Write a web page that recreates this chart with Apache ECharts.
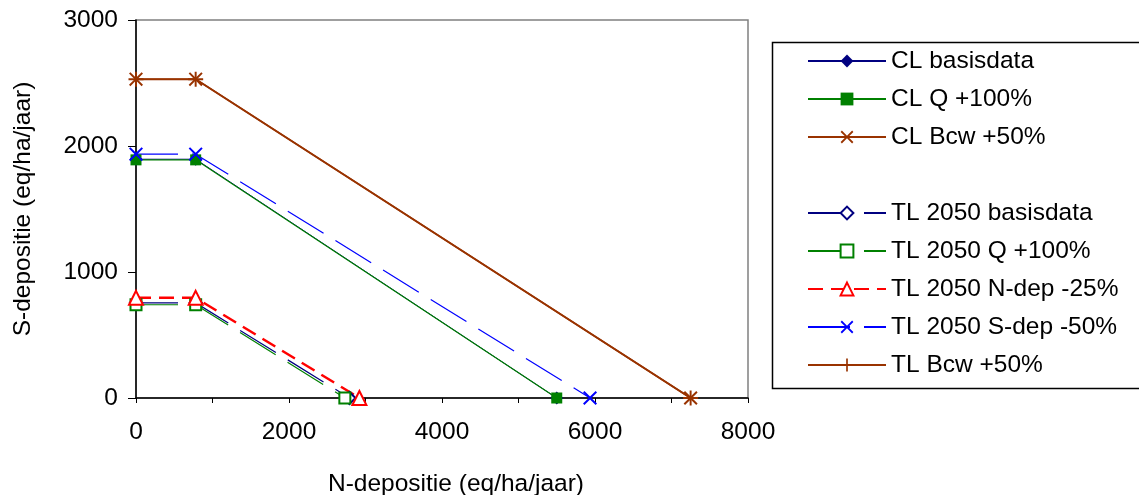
<!DOCTYPE html>
<html><head><meta charset="utf-8">
<script src="https://cdn.jsdelivr.net/npm/echarts@6/dist/echarts.min.js"></script>
<style>html,body{margin:0;padding:0;background:#fff}#c{width:1139px;height:495px}</style>
</head><body><div id="c"></div>
<script>
// ---- data ----
const seriesNames = ['CL basisdata','CL Q +100%','CL Bcw +50%','TL 2050 basisdata','TL 2050 Q +100%','TL 2050 N-dep -25%','TL 2050 S-dep -50%','TL Bcw +50%'];
const clBasisX = [0, 780, 5500];   const clBasisY = [1895, 1895, 0];
const clQX     = [0, 780, 5500];   const clQY     = [1890, 1890, 0];
const clBcwX   = [0, 780, 7250];   const clBcwY   = [2530, 2530, 0];
const tlBasisX = [0, 780, 2790];   const tlBasisY = [755, 755, 0];
const tlQX     = [0, 780, 2730];   const tlQY     = [740, 740, 0];
const tlNdepX  = [0, 780, 2920];   const tlNdepY  = [795, 795, 0];
const tlSdepX  = [0, 780, 5935];   const tlSdepY  = [1935, 1935, 0];
const tlBcwX   = [0, 780, 7250];   const tlBcwY   = [2530, 2530, 0];
const xTickLabels = ['0','2000','4000','6000','8000'];
const yTickLabels = ['0','1000','2000','3000'];
const xAxisTitle = 'N-depositie (eq/ha/jaar)';
const yAxisTitle = 'S-depositie (eq/ha/jaar)';

function zip(xs, ys){ return xs.map((x,i)=>[x, ys[i]]); }

const FONT = '"Liberation Sans", Arial, sans-serif';
const FS = 24.5;
const PLUS = 'path://M4.35,0H5.65V4.35H10V5.65H5.65V10H4.35V5.65H0V4.35H4.35Z';
const CROSS = 'path://M1,0L5,4L9,0L10,1L6,5L10,9L9,10L5,6L1,10L0,9L4,5L0,1Z';

function mk(name, xs, ys, color, width, dash, symbol, size, fill, extra){
  return Object.assign({
    name: name, type: 'line', data: zip(xs, ys), clip: false,
    symbol: symbol, symbolSize: size, showSymbol: true,
    lineStyle: {color: color, width: width, type: dash},
    itemStyle: fill ? {color: color, borderColor: color, borderWidth: 0}
                    : {color: '#fff', borderColor: color, borderWidth: 2},
    emphasis: {disabled: true}, animation: false
  }, extra || {});
}

const series = [
  mk(seriesNames[7], tlBcwX, tlBcwY, '#993300', 1.5, 'solid', PLUS, 15, true),
  mk(seriesNames[2], clBcwX, clBcwY, '#993300', 2, 'solid', CROSS, 14, true),
  mk(seriesNames[0], clBasisX, clBasisY, '#000080', 1, 'solid', 'diamond', 13, true),
  mk(seriesNames[1], clQX, clQY, '#008000', 1.2, 'solid', 'rect', 11, true),
  mk(seriesNames[6], tlSdepX, tlSdepY, '#0000FF', 1.2, [42, 14], CROSS, 14, true),
  mk(seriesNames[3], tlBasisX, tlBasisY, '#000080', 1.2, [42, 14], 'diamond', 12, false),
  mk(seriesNames[4], tlQX, tlQY, '#008000', 1.2, [42, 14], 'rect', 11, false),
  mk(seriesNames[5], tlNdepX, tlNdepY, '#FF0000', 2.5, [15, 8], 'triangle', 14, false)
];

const legendCommon = {
  orient: 'vertical', left: 802, itemWidth: 78, itemHeight: 16, itemGap: 10,
  selectedMode: false,
  textStyle: {fontFamily: FONT, fontSize: FS, color: '#000', lineHeight: 28, padding: [0,0,0,0]}
};

const chart = echarts.init(document.getElementById('c'), null, {renderer: 'canvas'});
chart.setOption({
  backgroundColor: '#fff',
  animation: false,
  grid: {left: 136, right: 391, top: 20, bottom: 97, show: true, borderColor: '#808080', borderWidth: 1.5,
         containLabel: false, outerBoundsMode: 'none'},
  xAxis: {
    type: 'value', min: 0, max: 8000, interval: 1000,
    name: xAxisTitle, nameLocation: 'middle', nameGap: 74,
    nameTextStyle: {fontFamily: FONT, fontSize: FS, color: '#000', padding: [0, 0, 0, 28]},
    axisLine: {show: true, onZero: false, lineStyle: {color: '#000', width: 1.5}},
    axisTick: {show: true, inside: false, length: 5, lineStyle: {color: '#000', width: 1}},
    axisLabel: {margin: 22, fontFamily: FONT, fontSize: FS, color: '#000',
      formatter: v => { const s = String(v); return xTickLabels.indexOf(s) >= 0 ? s : ''; }},
    splitLine: {show: false}
  },
  yAxis: {
    type: 'value', min: 0, max: 3000, interval: 1000,
    name: yAxisTitle, nameLocation: 'middle', nameGap: 100, nameRotate: 90,
    nameTextStyle: {fontFamily: FONT, fontSize: FS, color: '#000'},
    axisLine: {show: true, onZero: false, lineStyle: {color: '#000', width: 1.5}},
    axisTick: {show: true, inside: false, length: 8, lineStyle: {color: '#000', width: 1}},
    axisLabel: {margin: 18, fontFamily: FONT, fontSize: FS, color: '#000',
      formatter: v => { const s = String(v); return yTickLabels.indexOf(s) >= 0 ? s : ''; }},
    splitLine: {show: false}
  },
  legend: [
    Object.assign({}, legendCommon, {top: 42, data: [seriesNames[0], seriesNames[1], seriesNames[2]]}),
    Object.assign({}, legendCommon, {top: 194, data: [seriesNames[3], seriesNames[4], seriesNames[5], seriesNames[6], seriesNames[7]]})
  ],
  graphic: [{
    type: 'rect', left: 770, top: 40, silent: true,
    shape: {x: 0, y: 0, width: 420, height: 346},
    style: {fill: 'none', stroke: '#000', lineWidth: 1.5}
  }],
  series: series
});
</script></body></html>
